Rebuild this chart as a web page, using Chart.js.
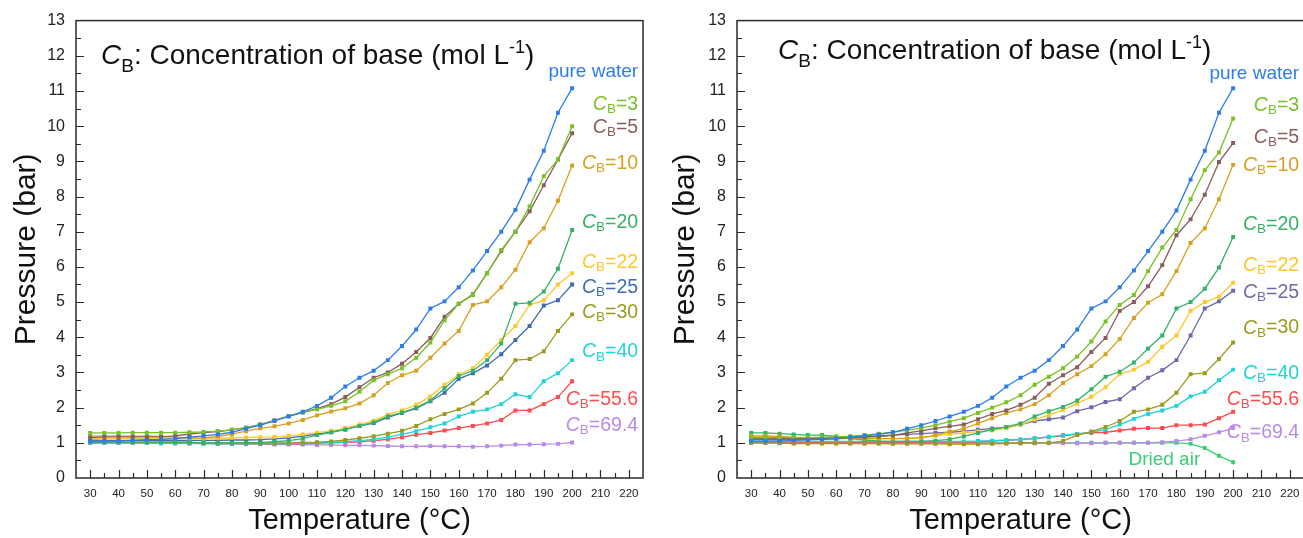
<!DOCTYPE html>
<html>
<head>
<meta charset="utf-8">
<title>Pressure vs temperature</title>
<script src="https://cdn.jsdelivr.net/npm/chart.js@4.4.1/dist/chart.umd.min.js"></script>
<style>
  html, body { margin: 0; padding: 0; background: #fff; overflow: hidden; }
  #wrap { position: relative; width: 1303px; height: 538px; overflow: hidden; }
  canvas { position: absolute; top: 0; }
  #left { left: 0; }
  #right { left: 651px; }
</style>
</head>
<body>
<div id="wrap">
  <canvas id="left" width="651" height="538"></canvas>
  <canvas id="right" width="660" height="538"></canvas>
</div>
<script>
// Temperature grid (°C)
const temperatures = [30,35,40,45,50,55,60,65,70,75,80,85,90,95,100,105,110,115,120,125,130,135,140,145,150,155,160,165,170,175,180,185,190,195,200];

// Axis tick labels
const xTickValues = [30,40,50,60,70,80,90,100,110,120,130,140,150,160,170,180,190,200,210,220];
const yTickValues = [0,1,2,3,4,5,6,7,8,9,10,11,12,13];

// Series names
const seriesNames = ['pure water','3','5','10','20','22','25','30','40','55.6','69.4','Dried air'];

// ---- Left panel: pressure (bar) ----
const leftPureWater = [1.05,1.05,1.05,1.07,1.09,1.10,1.12,1.16,1.20,1.24,1.30,1.40,1.50,1.62,1.75,1.88,2.05,2.28,2.60,2.85,3.05,3.35,3.75,4.22,4.82,5.02,5.42,5.90,6.45,7.00,7.62,8.48,9.30,10.38,11.08];
const leftCB3  = [1.28,1.28,1.28,1.29,1.29,1.29,1.29,1.30,1.31,1.33,1.37,1.43,1.52,1.63,1.76,1.87,1.95,2.05,2.18,2.45,2.78,2.95,3.12,3.42,3.85,4.48,4.95,5.20,5.82,6.48,7.00,7.72,8.58,9.05,10.00];
const leftCB5  = [1.15,1.17,1.17,1.17,1.17,1.17,1.20,1.25,1.29,1.32,1.37,1.43,1.52,1.64,1.76,1.86,1.97,2.10,2.30,2.58,2.85,3.00,3.25,3.58,3.98,4.58,4.95,5.22,5.82,6.45,7.00,7.58,8.32,9.05,9.80];
const leftCB10 = [1.19,1.19,1.19,1.19,1.19,1.18,1.16,1.14,1.14,1.18,1.25,1.33,1.41,1.47,1.55,1.65,1.78,1.89,1.98,2.12,2.35,2.70,2.92,3.05,3.42,3.82,4.18,4.92,5.02,5.42,5.92,6.70,7.10,7.88,8.88];
const leftCB20 = [1.02,1.02,1.02,1.02,1.02,1.02,1.02,1.02,1.00,1.00,1.00,1.00,1.01,1.03,1.06,1.12,1.22,1.30,1.38,1.48,1.58,1.75,1.86,2.00,2.20,2.55,2.90,3.05,3.35,3.82,4.95,4.98,5.30,5.95,7.05];
const leftCB22 = [1.12,1.12,1.12,1.12,1.12,1.12,1.12,1.12,1.12,1.13,1.14,1.15,1.16,1.17,1.20,1.24,1.29,1.34,1.42,1.52,1.63,1.80,1.92,2.08,2.32,2.65,2.95,3.12,3.50,3.92,4.32,4.92,5.05,5.50,5.82];
const leftCB25 = [1.08,1.07,1.07,1.07,1.07,1.07,1.07,1.07,1.07,1.07,1.08,1.08,1.09,1.11,1.14,1.19,1.25,1.30,1.38,1.48,1.56,1.72,1.85,1.98,2.18,2.42,2.82,2.98,3.20,3.52,3.92,4.32,4.90,5.05,5.50];
const leftCB30 = [1.03,1.03,1.02,1.02,1.02,1.02,1.02,1.01,1.00,1.00,1.00,0.99,0.99,0.99,1.00,1.01,1.02,1.04,1.08,1.13,1.19,1.26,1.34,1.48,1.67,1.82,1.95,2.12,2.42,2.82,3.35,3.38,3.60,4.18,4.65];
const leftCB40 = [1.00,1.00,1.00,1.00,1.00,0.99,0.99,0.99,0.98,0.98,0.98,0.98,0.98,0.98,0.98,0.99,1.00,1.01,1.03,1.06,1.10,1.16,1.24,1.33,1.44,1.55,1.75,1.88,1.95,2.10,2.38,2.30,2.75,2.98,3.35];
const leftCB556 = [1.00,1.00,1.00,1.00,1.00,1.00,0.99,0.99,0.99,0.98,0.98,0.98,0.98,0.98,0.98,0.98,0.99,1.00,1.01,1.03,1.06,1.10,1.16,1.23,1.28,1.35,1.42,1.48,1.55,1.65,1.92,1.92,2.10,2.30,2.75];
const leftCB694 = [1.00,1.00,1.00,1.00,1.00,0.99,0.99,0.98,0.98,0.97,0.97,0.96,0.96,0.95,0.95,0.95,0.94,0.94,0.93,0.93,0.92,0.91,0.90,0.90,0.91,0.90,0.90,0.89,0.90,0.92,0.95,0.95,0.96,0.97,1.01];

// ---- Right panel: pressure (bar) ----
const rightPureWater = [1.05,1.05,1.05,1.07,1.09,1.10,1.12,1.16,1.20,1.24,1.30,1.40,1.50,1.62,1.75,1.88,2.05,2.28,2.60,2.85,3.05,3.35,3.75,4.22,4.82,5.02,5.42,5.90,6.45,7.00,7.60,8.48,9.30,10.38,11.08];
const rightCB3  = [1.15,1.15,1.15,1.15,1.15,1.16,1.17,1.19,1.22,1.26,1.30,1.36,1.42,1.50,1.60,1.70,1.85,2.00,2.15,2.35,2.65,2.88,3.12,3.45,3.88,4.45,4.92,5.20,5.88,6.55,7.05,7.92,8.75,9.25,10.22];
const rightCB5  = [1.12,1.12,1.12,1.12,1.12,1.13,1.14,1.15,1.16,1.18,1.21,1.28,1.34,1.41,1.47,1.52,1.67,1.82,1.92,2.08,2.28,2.68,2.92,3.15,3.58,3.98,4.75,5.00,5.45,6.05,6.90,7.35,8.05,8.98,9.52];
const rightCB10 = [1.20,1.20,1.18,1.16,1.15,1.14,1.13,1.13,1.12,1.12,1.12,1.12,1.14,1.22,1.32,1.40,1.55,1.70,1.85,1.95,2.10,2.35,2.70,2.95,3.18,3.52,3.95,4.55,4.98,5.22,5.88,6.68,7.10,7.92,8.90];
const rightCB20 = [1.28,1.28,1.26,1.24,1.22,1.22,1.18,1.12,1.08,1.05,1.04,1.04,1.04,1.06,1.10,1.18,1.28,1.38,1.45,1.55,1.75,1.90,2.02,2.20,2.52,2.88,3.02,3.28,3.68,4.05,4.82,5.00,5.38,5.98,6.85];
const rightCB22 = [1.18,1.18,1.17,1.15,1.14,1.13,1.12,1.12,1.12,1.12,1.12,1.13,1.15,1.20,1.25,1.28,1.32,1.35,1.42,1.52,1.66,1.79,1.93,2.12,2.31,2.58,2.95,3.08,3.30,3.73,4.05,4.75,5.00,5.15,5.55];
const rightCB25 = [1.10,1.10,1.09,1.09,1.09,1.10,1.11,1.14,1.17,1.20,1.22,1.24,1.26,1.28,1.30,1.33,1.37,1.41,1.44,1.52,1.62,1.67,1.72,1.90,2.01,2.16,2.24,2.55,2.85,3.06,3.35,4.05,4.82,5.02,5.32];
const rightCB30 = [1.00,1.00,0.99,0.98,0.98,0.98,0.98,0.98,0.98,0.98,0.97,0.97,0.97,0.97,0.96,0.96,0.96,0.97,0.98,0.99,1.00,1.00,1.05,1.22,1.32,1.45,1.62,1.88,1.95,2.08,2.42,2.95,2.98,3.38,3.85];
const rightCB40 = [1.05,1.05,1.05,1.05,1.04,1.04,1.04,1.04,1.04,1.04,1.04,1.04,1.04,1.04,1.04,1.04,1.05,1.06,1.08,1.10,1.13,1.17,1.22,1.25,1.30,1.38,1.52,1.68,1.82,1.92,2.05,2.32,2.45,2.78,3.08];
const rightCB556 = [1.02,1.02,1.02,1.02,1.02,1.02,1.02,1.02,1.02,1.02,1.02,1.02,1.02,1.02,1.02,1.02,1.03,1.05,1.07,1.09,1.12,1.16,1.20,1.25,1.28,1.30,1.35,1.40,1.42,1.42,1.50,1.50,1.52,1.70,1.88];
const rightCB694 = [1.00,1.00,1.00,0.99,0.99,0.99,0.99,0.99,0.99,0.99,0.99,0.99,0.99,0.99,0.99,0.99,0.99,0.99,0.99,0.99,0.99,0.99,0.99,0.99,0.99,1.00,1.00,1.00,1.00,1.02,1.05,1.10,1.20,1.30,1.42];
const rightDriedAir = [1.00,1.00,1.00,1.00,1.00,1.00,1.00,1.00,1.00,1.00,1.00,1.00,1.00,1.00,1.00,1.00,1.00,1.00,1.00,1.00,1.00,1.00,1.00,1.00,1.00,1.00,1.00,1.00,1.00,1.00,1.00,0.97,0.85,0.63,0.45];

// Line colours per series
const colors = {
  pure: '#2b7de9', cb3: '#78c227', cb5: '#8a5c5c', cb10: '#d6a11f', cb20: '#35b26a',
  cb22: '#ffc72c', cb25L: '#3c6db0', cb25R: '#6c6aa8', cb30: '#9c9a1f', cb40: '#1fd3d8',
  cb556: '#ff4b4b', cb694: '#b88ae8', air: '#3dcd75'
};

// End-of-line label placement (x in °C, y in bar)
const leftLabelY  = [11.56, 10.62, 9.96, 8.94, 7.27, 6.13, 5.42, 4.71, 3.58, 2.24, 1.50];
const rightLabelY = [11.50, 10.59, 9.68, 8.88, 7.21, 6.05, 5.28, 4.26, 2.98, 2.24, 1.28, 0.51];
const labelRightX = 223.3;
const driedAirLabelRightX = 188.4;

const FONT = "'Liberation Sans', Arial, Helvetica, sans-serif";

const leftSeries = [
  { name: seriesNames[0],  values: leftPureWater, color: colors.pure },
  { name: seriesNames[1],  values: leftCB3,   color: colors.cb3 },
  { name: seriesNames[2],  values: leftCB5,   color: colors.cb5 },
  { name: seriesNames[3],  values: leftCB10,  color: colors.cb10 },
  { name: seriesNames[4],  values: leftCB20,  color: colors.cb20 },
  { name: seriesNames[5],  values: leftCB22,  color: colors.cb22 },
  { name: seriesNames[6],  values: leftCB25,  color: colors.cb25L },
  { name: seriesNames[7],  values: leftCB30,  color: colors.cb30 },
  { name: seriesNames[8],  values: leftCB40,  color: colors.cb40 },
  { name: seriesNames[9],  values: leftCB556, color: colors.cb556 },
  { name: seriesNames[10], values: leftCB694, color: colors.cb694 }
];

const rightSeries = [
  { name: seriesNames[0],  values: rightPureWater, color: colors.pure },
  { name: seriesNames[1],  values: rightCB3,   color: colors.cb3 },
  { name: seriesNames[2],  values: rightCB5,   color: colors.cb5 },
  { name: seriesNames[3],  values: rightCB10,  color: colors.cb10 },
  { name: seriesNames[4],  values: rightCB20,  color: colors.cb20 },
  { name: seriesNames[5],  values: rightCB22,  color: colors.cb22 },
  { name: seriesNames[6],  values: rightCB25,  color: colors.cb25R },
  { name: seriesNames[7],  values: rightCB30,  color: colors.cb30 },
  { name: seriesNames[8],  values: rightCB40,  color: colors.cb40 },
  { name: seriesNames[9],  values: rightCB556, color: colors.cb556 },
  { name: seriesNames[10], values: rightCB694, color: colors.cb694 },
  { name: seriesNames[11], values: rightDriedAir, color: colors.air }
];

// Draw a run of styled text pieces; returns total width
function richText(ctx, pieces, x, y, align, draw) {
  let total = 0;
  for (const p of pieces) {
    ctx.font = (p.italic ? 'italic ' : '') + p.size + 'px ' + FONT;
    p.w = ctx.measureText(p.t).width;
    total += p.w;
  }
  if (!draw) return total;
  let cx = align === 'right' ? x - total : x;
  for (const p of pieces) {
    ctx.font = (p.italic ? 'italic ' : '') + p.size + 'px ' + FONT;
    ctx.fillText(p.t, cx, y + (p.dy || 0));
    cx += p.w;
  }
  return total;
}

function seriesLabelPieces(name) {
  if (name === 'pure water' || name === 'Dried air') {
    return [{ t: name, size: 19 }];
  }
  return [
    { t: 'C', size: 19.5, italic: true },
    { t: 'B', size: 13.5, dy: 5 },
    { t: '=' + name, size: 19.5 }
  ];
}

function makeDecorations(seriesList, labelY, headingX, headingBaseline) {
  return {
    id: 'panelDecorations',
    afterDraw(chart) {
      const { ctx, chartArea: a, scales: { x, y } } = chart;
      ctx.save();
      // Frame
      ctx.strokeStyle = '#2a2a2a';
      ctx.lineWidth = 1.5;
      ctx.strokeRect(a.left, a.top, a.right - a.left, a.bottom - a.top);
      // Inward tick marks on bottom and left axes
      ctx.lineWidth = 1.2;
      ctx.beginPath();
      for (let v = 25; v <= 225; v += 5) {
        if (v === 25 || v === 225) continue;
        const px = Math.round(x.getPixelForValue(v)) + 0.5;
        const len = v % 10 === 0 ? 8 : 5;
        ctx.moveTo(px, a.bottom);
        ctx.lineTo(px, a.bottom - len);
      }
      for (let v = 0.5; v < 13; v += 0.5) {
        const py = Math.round(y.getPixelForValue(v)) + 0.5;
        const len = Number.isInteger(v) ? 8 : 5;
        ctx.moveTo(a.left, py);
        ctx.lineTo(a.left + len, py);
      }
      ctx.stroke();

      // Heading inside the plot
      ctx.fillStyle = '#111';
      ctx.textBaseline = 'alphabetic';
      ctx.textAlign = 'left';
      richText(ctx, [
        { t: 'C', size: 28, italic: true },
        { t: 'B', size: 19, dy: 8 },
        { t: ': Concentration of base (mol L', size: 28 },
        { t: '-1', size: 18, dy: -11 },
        { t: ')', size: 28 }
      ], headingX, headingBaseline, 'left', true);

      // Series end labels
      ctx.textBaseline = 'middle';
      seriesList.forEach((s, i) => {
        const lx = x.getPixelForValue(s.name === 'Dried air' ? driedAirLabelRightX : labelRightX);
        const ly = y.getPixelForValue(labelY[i]);
        ctx.fillStyle = s.color;
        richText(ctx, seriesLabelPieces(s.name), lx, ly, 'right', true);
      });
      ctx.restore();
    }
  };
}

function buildPanel(canvasId, seriesList, labelY, geom) {
  const datasets = seriesList.map(s => ({
    label: s.name,
    data: temperatures.map((t, i) => ({ x: t, y: s.values[i] })),
    borderColor: s.color,
    backgroundColor: s.color,
    borderWidth: 1.3,
    pointStyle: 'rect',
    pointRadius: 2.8,
    pointHoverRadius: 2.8,
    pointBorderWidth: 0,
    tension: 0,
    fill: false
  }));

  return new Chart(document.getElementById(canvasId), {
    type: 'line',
    data: { datasets },
    options: {
      responsive: false,
      animation: false,
      devicePixelRatio: 1,
      events: [],
      layout: { padding: { left: 0, right: geom.padRight, top: 20, bottom: 0 } },
      plugins: { legend: { display: false }, tooltip: { enabled: false } },
      scales: {
        x: {
          type: 'linear',
          min: 25,
          max: 225,
          afterBuildTicks: s => { s.ticks = xTickValues.map(v => ({ value: v })); },
          afterFit: s => { s.height = 60; },
          grid: { display: false, drawTicks: false },
          border: { display: false },
          ticks: {
            padding: 9,
            autoSkip: false,
            maxRotation: 0,
            color: '#222',
            font: { family: FONT, size: 11.5 }
          },
          title: {
            display: true,
            text: 'Temperature (°C)',
            color: '#111',
            font: { family: FONT, size: 29, lineHeight: 1.15 },
            padding: { top: 0, bottom: 0 }
          }
        },
        y: {
          type: 'linear',
          min: 0,
          max: 13,
          afterBuildTicks: s => { s.ticks = yTickValues.map(v => ({ value: v })); },
          afterFit: s => { s.width = geom.yWidth; },
          grid: { display: false, drawTicks: false },
          border: { display: false },
          ticks: {
            padding: 11,
            color: '#222',
            font: { family: FONT, size: 16 }
          },
          title: {
            display: true,
            text: 'Pressure (bar)',
            color: '#111',
            font: { family: FONT, size: 30, lineHeight: 1.2 },
            padding: { top: geom.yTitlePad, bottom: 0 }
          }
        }
      }
    },
    plugins: [makeDecorations(seriesList, labelY, geom.headingX, geom.headingBaseline)]
  });
}

buildPanel('left', leftSeries, leftLabelY,
  { yWidth: 76, padRight: 8, yTitlePad: 9, headingX: 101, headingBaseline: 64 });
buildPanel('right', rightSeries, rightLabelY,
  { yWidth: 86, padRight: 7, yTitlePad: 17, headingX: 127, headingBaseline: 59 });
</script>
</body>
</html>
